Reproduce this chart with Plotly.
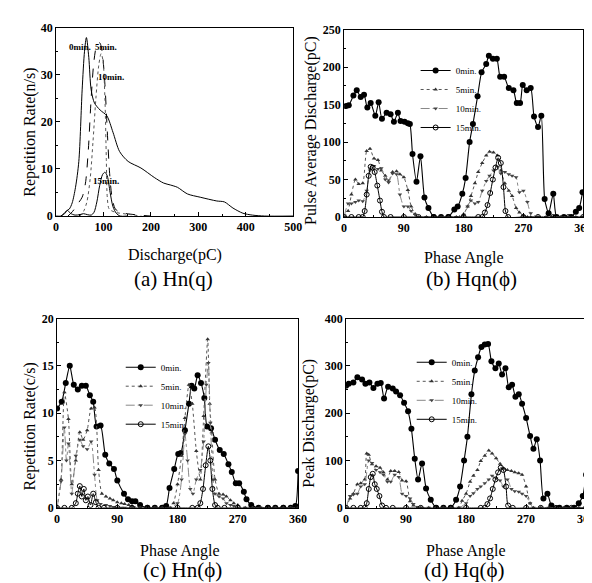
import plotly.graph_objects as go

# ---------------- data ----------------
# (a) Hn(q): repetition rate vs discharge
a_0min_x = [0, 10, 16, 22, 28, 34, 41, 48, 55, 60, 64, 69, 74, 81, 93, 107, 120, 134, 152, 179,
            207, 227, 241, 256, 277, 304, 339, 355, 373, 394, 414, 440, 500]
a_0min_y = [0, 0, 0.5, 1.1, 1.5, 2.8, 6.1, 11.6, 26.8, 35, 37.9, 33.7, 26.8, 24, 22.5, 21.3, 17.8, 13.7, 11.6, 10.2,
            8.2, 7.0, 6.6, 6.1, 4.7, 4.0, 3.2, 3.0, 1.7, 0.6, 0.2, 0, 0]
a_5min_x = [25, 35, 45, 55, 62, 68, 74, 80, 86, 92, 97, 103, 108, 113, 118, 125, 135, 150, 175, 200]
a_5min_y = [0, 1, 2.5, 4, 7, 14, 25, 33, 36.3, 36.8, 35, 28, 18, 9, 4, 1.5, 0.8, 0.5, 0.2, 0]
a_10min_x = [50, 58, 65, 72, 78, 84, 90, 95, 99, 103, 106, 108, 112, 125, 150, 180]
a_10min_y = [0, 1, 3, 8, 16, 25, 32, 34.5, 33, 25, 12, 4, 1.5, 0.8, 0.4, 0]
a_15min_x = [10, 18, 24, 30, 40, 50, 58, 66, 74, 80, 86, 92, 98, 103, 108, 114, 120, 127, 135, 150]
a_15min_y = [0, 0.5, 1.2, 0.6, 0.2, 0.3, 0.5, 0.3, 0.2, 0.8, 3, 6.5, 8.8, 9.3, 8.5, 5, 2, 0.6, 0, 0]
a_labels = ["0min.", "5min.", "10min.", "15min."]
a_label_x = [50, 105, 115, 105]
a_label_y = [35.9, 35.9, 29.6, 7.5]

# (b) Hqn(phi): pulse average discharge vs phase
b_0min_x = [3, 7, 14, 19, 25, 30, 35, 40, 47, 52, 57, 64, 70, 75, 81, 85, 91, 96, 99, 103,
            109, 115, 121, 127, 135, 146, 157, 166, 171, 178, 183, 189, 194, 201, 207, 214, 218, 224, 230, 235,
            241, 248, 255, 260, 265, 269, 275, 281, 286, 292, 297, 302, 308, 315, 320, 331, 342, 349, 354, 359]
b_0min_y = [148, 149, 162, 169, 160, 163, 146, 152, 135, 153, 131, 139, 137, 127, 139, 128, 127, 125, 124, 84,
            47, 81, 26, 12, 0, 0, 0, 10, 14, 31, 52, 100, 124, 161, 193, 204, 215, 211, 211, 187,
            187, 172, 169, 152, 152, 176, 169, 172, 134, 120, 135, 24, 5, 31, 0, 0, 0, 7, 12, 33]
b_5min_x = [0, 6, 11, 17, 22, 28, 34, 39, 45, 51, 56, 62, 67, 73, 79, 84, 90, 96, 101, 107,
            112, 124, 135, 146, 157, 169, 174, 180, 186, 191, 197, 202, 208, 214, 219, 225, 231, 236, 242, 248,
            253, 259, 264, 270, 276, 281, 292, 304, 315, 326, 338, 349, 360]
b_5min_y = [0, 8, 30, 50, 44, 45, 88, 91, 78, 76, 62, 55, 48, 60, 61, 57, 53, 36, 14, 4,
            0, 0, 0, 0, 0, 0, 0, 4, 14, 28, 45, 60, 72, 82, 87, 86, 82, 62, 45, 35,
            28, 12, 6, 2, 0, 0, 0, 0, 0, 0, 0, 0, 0]
b_10min_x = [0, 6, 11, 17, 22, 28, 34, 39, 45, 51, 56, 62, 67, 73, 79, 84, 90, 96, 101, 107,
             112, 124, 135, 146, 157, 169, 180, 186, 191, 197, 202, 208, 214, 219, 225, 231, 236, 242, 248, 253,
             259, 264, 270, 276, 281, 292, 304, 315, 326, 338, 349, 360]
b_10min_y = [0, 18, 18, 20, 22, 21, 35, 62, 68, 64, 65, 50, 46, 58, 57, 30, 14, 14, 8, 3,
             0, 0, 0, 0, 0, 0, 2, 14, 22, 18, 20, 35, 48, 55, 62, 67, 58, 60, 57, 55,
             53, 33, 35, 20, 5, 0, 0, 0, 0, 0, 0, 0]
b_15min_x = [0, 11, 22, 28, 31, 34, 37, 40, 43, 46, 50, 54, 57, 60, 70, 90, 112, 135, 157, 180,
             202, 208, 212, 216, 220, 224, 228, 232, 236, 240, 243, 247, 270, 292, 315, 338, 360]
b_15min_y = [0, 0, 0, 0, 8, 30, 55, 67, 66, 60, 42, 22, 7, 0, 0, 0, 0, 0, 0, 0,
             0, 0, 6, 16, 32, 50, 66, 79, 72, 40, 8, 0, 0, 0, 0, 0, 0]

# (c) Hn(phi): repetition rate vs phase
c_0min_x = [0, 7, 13, 19, 25, 31, 37, 43, 49, 54, 59, 65, 72, 78, 85, 90, 100, 106, 112, 117,
            124, 135, 146, 157, 163, 168, 175, 181, 185, 191, 197, 201, 205, 210, 215, 220, 224, 230, 236, 243,
            249, 256, 261, 267, 272, 279, 283, 290, 301, 315, 326, 338, 349, 356, 360]
c_0min_y = [10.5, 11.2, 13.2, 15, 13, 12.5, 12.9, 12.9, 11.9, 11.2, 8.6, 8.7, 5.6, 4.7, 4.1, 2.9, 1.5, 0.9, 0.7, 0.7,
            0.3, 0, 0, 0, 0.2, 2.1, 4.1, 5.7, 5.8, 8.2, 11, 12.9, 12.6, 14, 13.2, 11.6, 8.6, 8.4, 7.2, 6.1,
            5.7, 4.6, 3.8, 2.6, 2.6, 1.7, 0.9, 0.3, 0, 0, 0, 0, 0, 0.2, 3.9]
c_5min_x = [0, 6, 11, 17, 22, 28, 34, 39, 45, 51, 56, 62, 67, 73, 79, 84, 90, 96, 101, 107,
            112, 124, 135, 146, 157, 169, 174, 180, 186, 191, 197, 202, 208, 214, 219, 225, 228, 231, 236, 242,
            248, 253, 259, 264, 270, 281, 292, 304, 315, 326, 338, 349, 360]
c_5min_y = [0, 3, 12.2, 9.4, 2.5, 5, 8, 7.2, 8.2, 10.5, 10.6, 4, 1.5, 1.2, 1.0, 0.8, 0.6, 0.5, 0.4, 0.3,
            0.2, 0, 0, 0, 0, 0, 0.5, 2.5, 5.5, 9.5, 13, 11, 6, 3, 9.7, 17.8, 11, 8, 3, 1.5,
            1.4, 1.2, 0.8, 0.5, 0.3, 0, 0, 0, 0, 0, 0, 0, 0]
c_10min_x = [0, 6, 11, 14, 17, 22, 28, 34, 39, 45, 51, 56, 60, 65, 73, 79, 84, 90, 96, 101,
             112, 124, 135, 146, 157, 169, 180, 186, 191, 195, 199, 203, 208, 214, 219, 223, 226, 229, 233, 236,
             242, 248, 253, 259, 264, 270, 281, 292, 304, 315, 326, 338, 349, 360]
c_10min_y = [0, 2.8, 8.5, 5, 6.8, 1.5, 5.5, 7.2, 6.5, 6.2, 7.0, 3.5, 0.8, 0.4, 0.3, 0.2, 0.1, 0, 0, 0,
             0, 0, 0, 0, 0, 0, 0.5, 3, 7.8, 5, 2, 1.5, 3, 4, 7, 13, 15.3, 9, 3, 1.5,
             1.2, 1.0, 0.5, 0.3, 0.2, 0, 0, 0, 0, 0, 0, 0, 0, 0]
c_15min_x = [0, 11, 22, 28, 31, 34, 37, 40, 43, 46, 50, 54, 58, 62, 70, 90, 112, 135, 157, 180,
             202, 210, 214, 218, 222, 226, 229, 232, 236, 240, 250, 270, 292, 315, 338, 360]
c_15min_y = [0, 0, 0, 0.5, 1.5, 2.3, 1.2, 2.0, 0.8, 1.2, 0.3, 1.5, 0.6, 0, 0, 0, 0, 0, 0, 0,
             0, 0, 0.5, 2, 4.5, 6.5, 5, 2, 0.3, 0, 0, 0, 0, 0, 0, 0]

# (d) Hq(phi): peak discharge vs phase
d_0min_x = [0, 4, 11, 17, 24, 29, 35, 41, 47, 52, 57, 63, 70, 75, 81, 87, 93, 98, 103, 108,
            114, 120, 127, 135, 146, 157, 165, 171, 177, 182, 188, 193, 198, 203, 208, 213, 218, 224, 229, 234,
            239, 244, 249, 254, 259, 264, 270, 276, 281, 286, 291, 296, 302, 308, 320, 331, 342, 349, 355, 360]
d_0min_y = [258, 262, 265, 276, 271, 262, 265, 253, 262, 264, 231, 256, 252, 246, 238, 222, 204, 167, 104, 60,
            94, 41, 17, 0, 0, 0, 17, 45, 100, 150, 240, 290, 318, 340, 345, 346, 310, 295, 305, 282,
            295, 255, 260, 235, 240, 220, 190, 152, 125, 145, 100, 20, 30, 5, 0, 0, 0, 10, 25, 70]
d_5min_x = [0, 6, 11, 17, 22, 28, 31, 34, 39, 45, 51, 56, 62, 67, 73, 79, 84, 90, 96, 101,
            107, 112, 124, 135, 146, 157, 169, 174, 180, 186, 191, 197, 202, 208, 214, 219, 225, 231, 236, 242,
            248, 253, 259, 264, 270, 276, 281, 292, 304, 315, 326, 338, 349, 360]
d_5min_y = [0, 20, 30, 50, 52, 60, 115, 112, 92, 88, 85, 75, 60, 78, 78, 76, 58, 56, 14, 5,
            0, 0, 0, 0, 0, 0, 0, 15, 30, 55, 68, 80, 99, 110, 121, 115, 105, 93, 83, 80,
            78, 75, 73, 70, 45, 10, 0, 0, 0, 0, 0, 0, 0, 0]
d_10min_x = [0, 6, 11, 17, 22, 28, 34, 39, 45, 51, 56, 62, 67, 73, 79, 84, 90, 96, 101, 107,
             112, 124, 135, 146, 157, 169, 180, 186, 191, 197, 202, 208, 214, 219, 225, 231, 236, 242, 248, 253,
             259, 264, 270, 276, 281, 292, 304, 315, 326, 338, 349, 360]
d_10min_y = [0, 25, 28, 30, 45, 50, 100, 95, 80, 75, 70, 55, 55, 70, 65, 30, 25, 20, 8, 2,
             0, 0, 0, 0, 0, 0, 10, 25, 31, 40, 45, 52, 60, 68, 62, 58, 45, 60, 40, 35,
             34, 30, 25, 10, 0, 0, 0, 0, 0, 0, 0, 0]
d_15min_x = [0, 11, 22, 28, 31, 34, 37, 40, 43, 46, 50, 54, 60, 70, 90, 112, 135, 157, 180, 202,
             208, 212, 216, 220, 224, 228, 232, 236, 240, 243, 250, 270, 292, 315, 338, 360]
d_15min_y = [0, 0, 0, 0, 10, 40, 65, 72, 50, 40, 25, 5, 0, 0, 0, 0, 0, 0, 0, 0,
             0, 8, 20, 40, 60, 75, 85, 80, 45, 5, 0, 0, 0, 0, 0, 0]

series_names = ["0min.", "5min.", "10min.", "15min."]
phase_ticks = [0, 90, 180, 270, 360]

# ---------------- figure ----------------
W, H = 592, 583
SERIF = "Liberation Serif"


def fx(p):
    return p / W


def fy(p):
    return 1 - p / H


STY = {
    "0min.": dict(line=dict(color="black", width=1.1, dash="solid"),
                  marker=dict(symbol="circle", size=6, color="black")),
    "5min.": dict(line=dict(color="#555555", width=1, dash="dot"),
                  marker=dict(symbol="triangle-up", size=4, color="#333333")),
    "10min.": dict(line=dict(color="#888888", width=1, dash="dashdot"),
                   marker=dict(symbol="triangle-down", size=4, color="#444444")),
    "15min.": dict(line=dict(color="black", width=1, dash="solid"),
                   marker=dict(symbol="circle-open", size=5, color="black", line=dict(width=1))),
}
A_DASH = {"0min.": "solid", "5min.": "dash", "10min.": "dot", "15min.": "solid"}

fig = go.Figure()

# panel a
for name, xs, ys in zip(series_names, [a_0min_x, a_5min_x, a_10min_x, a_15min_x],
                        [a_0min_y, a_5min_y, a_10min_y, a_15min_y]):
    assert len(xs) == len(ys)
    fig.add_trace(go.Scatter(x=xs, y=ys, mode="lines", name=name, showlegend=False,
                             line=dict(color="black" if A_DASH[name] != "dot" else "#555555",
                                       width=1, dash=A_DASH[name], shape="spline", smoothing=0.8),
                             xaxis="x", yaxis="y"))

panels = [
    ("x2", "y2", "legend",
     [b_0min_x, b_5min_x, b_10min_x, b_15min_x], [b_0min_y, b_5min_y, b_10min_y, b_15min_y]),
    ("x3", "y3", "legend2",
     [c_0min_x, c_5min_x, c_10min_x, c_15min_x], [c_0min_y, c_5min_y, c_10min_y, c_15min_y]),
    ("x4", "y4", "legend3",
     [d_0min_x, d_5min_x, d_10min_x, d_15min_x], [d_0min_y, d_5min_y, d_10min_y, d_15min_y]),
]
for xa, ya, leg, xss, yss in panels:
    for name, xs, ys in zip(series_names, xss, yss):
        assert len(xs) == len(ys)
        st = STY[name]
        ln = dict(st["line"])
        ln.update(shape="spline", smoothing=0.6)
        fig.add_trace(go.Scatter(x=xs, y=ys, mode="lines+markers", name=name,
                                 line=ln, marker=st["marker"], cliponaxis=True,
                                 xaxis=xa, yaxis=ya, legend=leg))

tickfont = dict(family=SERIF, size=12, color="black", weight="bold")
common = dict(showline=True, mirror=True, linecolor="black", linewidth=1,
              ticks="inside", ticklen=4, tickwidth=1, tickcolor="black",
              showgrid=False, zeroline=False, tickfont=tickfont, fixedrange=True)
minor = lambda d: dict(dtick=d, ticks="inside", ticklen=2, tickcolor="black", showgrid=False)

fig.update_layout(
    width=W, height=H, margin=dict(l=0, r=0, t=0, b=0),
    paper_bgcolor="white", plot_bgcolor="white",
    font=dict(family=SERIF, color="black"),
    xaxis=dict(domain=[fx(46), fx(288)], anchor="y", range=[0, 500], dtick=100, minor=minor(50), **common),
    yaxis=dict(domain=[fy(206), fy(13)], anchor="x", range=[0, 40], dtick=10, minor=minor(5), **common),
    xaxis2=dict(domain=[fx(340), fx(584)], anchor="y2", range=[0, 360], tickvals=phase_ticks,
                minor=minor(45), **common),
    yaxis2=dict(domain=[fy(207), fy(15)], anchor="x2", range=[0, 250], dtick=50, minor=minor(25), **common),
    xaxis3=dict(domain=[fx(47), fx(293)], anchor="y3", range=[0, 360], tickvals=phase_ticks,
                minor=minor(45), **common),
    yaxis3=dict(domain=[fy(505), fy(311)], anchor="x3", range=[0, 20], dtick=5, minor=minor(2.5), **common),
    xaxis4=dict(domain=[fx(342), fx(587)], anchor="y4", range=[0, 360], tickvals=phase_ticks,
                minor=minor(45), **common),
    yaxis4=dict(domain=[fy(505), fy(311)], anchor="x4", range=[0, 400], dtick=100, minor=minor(50), **common),
)

legfont = dict(family=SERIF, size=9, color="black")
fig.update_layout(
    legend=dict(x=fx(413), y=fy(42), xanchor="left", yanchor="top", bgcolor="rgba(0,0,0,0)",
                font=legfont, itemwidth=30, tracegroupgap=0),
    legend2=dict(x=fx(112), y=fy(346), xanchor="left", yanchor="top", bgcolor="rgba(0,0,0,0)",
                 font=legfont, itemwidth=30, tracegroupgap=0),
    legend3=dict(x=fx(409), y=fy(341), xanchor="left", yanchor="top", bgcolor="rgba(0,0,0,0)",
                 font=legfont, itemwidth=30, tracegroupgap=0),
)

ann = []
# panel a curve labels
for t, lx, ly in zip(a_labels, a_label_x, a_label_y):
    ann.append(dict(x=lx, y=ly, xref="x", yref="y", text=t, showarrow=False,
                    font=dict(family=SERIF, size=9, color="black", weight="bold")))


def txt(text, x, y, size, angle=0):
    ann.append(dict(x=fx(x), y=fy(y), xref="paper", yref="paper", text=text, showarrow=False,
                    textangle=angle, xanchor="center", yanchor="middle",
                    font=dict(family=SERIF, size=size, color="black")))


txt("Discharge(pC)", 167, 246, 16)
txt("Phase Angle", 462, 249, 16)
txt("Phase Angle", 172, 549, 16)
txt("Phase Angle", 464, 549, 16)
txt("(a) Hn(q)", 166, 270, 21)
txt("(b) Hqn(ϕ)", 470, 270, 21)
txt("(c) Hn(ϕ)", 175, 569, 21)
txt("(d) Hq(ϕ)", 462, 569, 21)
txt("Repetition Rate(n/s)", 20, 120, 16, -90)
txt("Pulse Average Discharge(pC)", 306, 118, 16, -90)
txt("Repetition Rate(c/s)", 19, 422, 16, -90)
txt("Peak Discharge(pC)", 304, 418, 16, -90)
fig.update_layout(annotations=ann)

fig.write_html("out.html")
